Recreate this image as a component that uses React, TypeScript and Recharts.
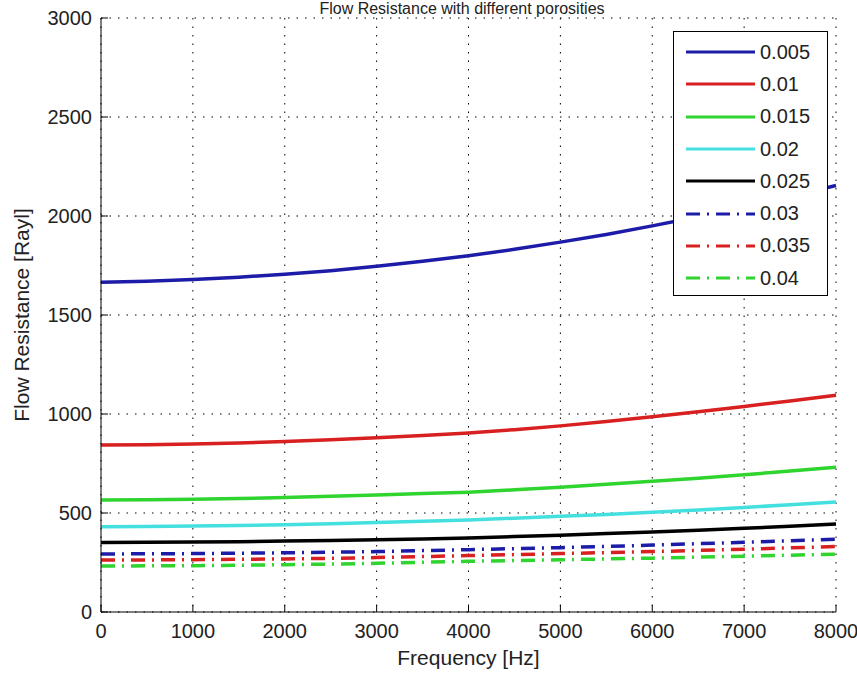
import * as React from "react";
import {
  LineChart,
  Line,
  XAxis,
  YAxis,
  CartesianGrid,
  Legend,
  Label,
  Customized,
} from "recharts";

// frequency axis, Hz
const freqs = [
  0, 500, 1000, 1500, 2000, 2500, 3000, 3500, 4000, 4500, 5000, 5500, 6000,
  6500, 7000, 7500, 8000,
];

// flow resistance [Rayl], one list per porosity
const p005 = [1666, 1671, 1679, 1691, 1706, 1724, 1746, 1771, 1799, 1832, 1868, 1907, 1950, 1996, 2045, 2098, 2154];
const p010 = [843, 845, 849, 854, 861, 870, 880, 891, 904, 921, 940, 962, 986, 1011, 1038, 1066, 1095];
const p015 = [566, 567, 570, 573, 578, 584, 591, 598, 605, 617, 630, 645, 660, 676, 693, 712, 731];
const p020 = [431, 432, 434, 437, 441, 446, 452, 458, 465, 474, 483, 493, 504, 515, 528, 542, 556];
const p025 = [351, 352, 353, 355, 358, 361, 365, 369, 374, 381, 388, 396, 404, 413, 423, 433, 444];
const p030 = [293, 294, 295, 297, 299, 302, 305, 310, 315, 320, 325, 331, 338, 345, 352, 360, 368];
const p035 = [262, 263, 264, 266, 268, 271, 275, 280, 285, 290, 295, 300, 305, 311, 317, 324, 331];
const p040 = [232, 233, 234, 236, 239, 242, 246, 251, 256, 260, 264, 268, 272, 277, 282, 287, 292];

const xTicks = [0, 1000, 2000, 3000, 4000, 5000, 6000, 7000, 8000];
const yTicks = [0, 500, 1000, 1500, 2000, 2500, 3000];

const FONT = "'Liberation Sans', Arial, Helvetica, sans-serif";
const DASHDOT = "14 7 2 7";

const series = [
  { key: "p005", name: "0.005", values: p005, color: "#1c1ca8", dash: undefined },
  { key: "p010", name: "0.01", values: p010, color: "#d82020", dash: undefined },
  { key: "p015", name: "0.015", values: p015, color: "#2fd42f", dash: undefined },
  { key: "p020", name: "0.02", values: p020, color: "#44e0e0", dash: undefined },
  { key: "p025", name: "0.025", values: p025, color: "#000000", dash: undefined },
  { key: "p030", name: "0.03", values: p030, color: "#1c1ca8", dash: DASHDOT },
  { key: "p035", name: "0.035", values: p035, color: "#d82020", dash: DASHDOT },
  { key: "p040", name: "0.04", values: p040, color: "#2fd42f", dash: DASHDOT },
];

const data = freqs.map((f, i) => {
  const row: Record<string, number> = { f };
  series.forEach((s) => (row[s.key] = s.values[i]));
  return row;
});

const tickStyle = { fontSize: 20, fill: "#222", fontFamily: FONT };

function LegendBox() {
  return (
    <div
      style={{
        boxSizing: "border-box",
        width: 155,
        height: 265,
        border: "1px solid #000",
        background: "#fff",
        paddingTop: 4,
        fontFamily: FONT,
        fontSize: 20,
        color: "#222",
      }}
    >
      {series.map((s) => (
        <div
          key={s.key}
          style={{ height: 32.3, display: "flex", alignItems: "center" }}
        >
          <svg width={69} height={10} style={{ marginLeft: 12 }}>
            <line
              x1={0}
              y1={5}
              x2={69}
              y2={5}
              stroke={s.color}
              strokeWidth={3}
              strokeDasharray={s.dash}
            />
          </svg>
          <span style={{ marginLeft: 5 }}>{s.name}</span>
        </div>
      ))}
    </div>
  );
}

export default function App() {
  return (
    <div style={{ position: "absolute", left: 0, top: 0, background: "#fff" }}>
      <LineChart
        width={857}
        height={673}
        data={data}
        margin={{ top: 18, right: 21, bottom: 0, left: 0 }}
      >
        <CartesianGrid stroke="#000" strokeDasharray="1.5 7" />
        <XAxis
          dataKey="f"
          type="number"
          domain={[0, 8000]}
          ticks={xTicks}
          height={61}
          tickSize={-7}
          tickMargin={19}
          tick={tickStyle}
          stroke="#000"
          interval={0}
        >
          <Label
            value="Frequency [Hz]"
            position="insideBottom"
            offset={8}
            style={{ fontSize: 21, fill: "#222", fontFamily: FONT }}
          />
        </XAxis>
        <XAxis
          xAxisId="top"
          orientation="top"
          dataKey="f"
          type="number"
          domain={[0, 8000]}
          ticks={xTicks}
          height={0}
          tickSize={-7}
          tickFormatter={() => ""}
          stroke="#000"
          interval={0}
        />
        <YAxis
          type="number"
          domain={[0, 3000]}
          ticks={yTicks}
          width={101}
          tickSize={-7}
          tickMargin={16}
          tick={tickStyle}
          stroke="#000"
          interval={0}
        >
          <Label
            value="Flow Resistance [Rayl]"
            angle={-90}
            position="insideLeft"
            offset={22}
            style={{ textAnchor: "middle", fontSize: 21, fill: "#222", fontFamily: FONT }}
          />
        </YAxis>
        <YAxis
          yAxisId="right"
          orientation="right"
          type="number"
          domain={[0, 3000]}
          ticks={yTicks}
          width={0}
          tickSize={-7}
          tickFormatter={() => ""}
          stroke="#000"
          interval={0}
        />
        {series.map((s) => (
          <Line
            key={s.key}
            dataKey={s.key}
            name={s.name}
            stroke={s.color}
            strokeWidth={3.5}
            strokeDasharray={s.dash}
            dot={false}
            activeDot={false}
            type="linear"
            isAnimationActive={false}
          />
        ))}
        <Legend
          layout="vertical"
          align="center"
          verticalAlign="middle"
          wrapperStyle={{ left: 673, top: 31, width: 155, height: 265 }}
          content={() => <LegendBox />}
        />
        <Customized
          component={() => (
            <text
              x={462}
              y={14}
              textAnchor="middle"
              style={{ fontSize: 16, fill: "#222", fontFamily: FONT }}
            >
              Flow Resistance with different porosities
            </text>
          )}
        />
      </LineChart>
    </div>
  );
}
